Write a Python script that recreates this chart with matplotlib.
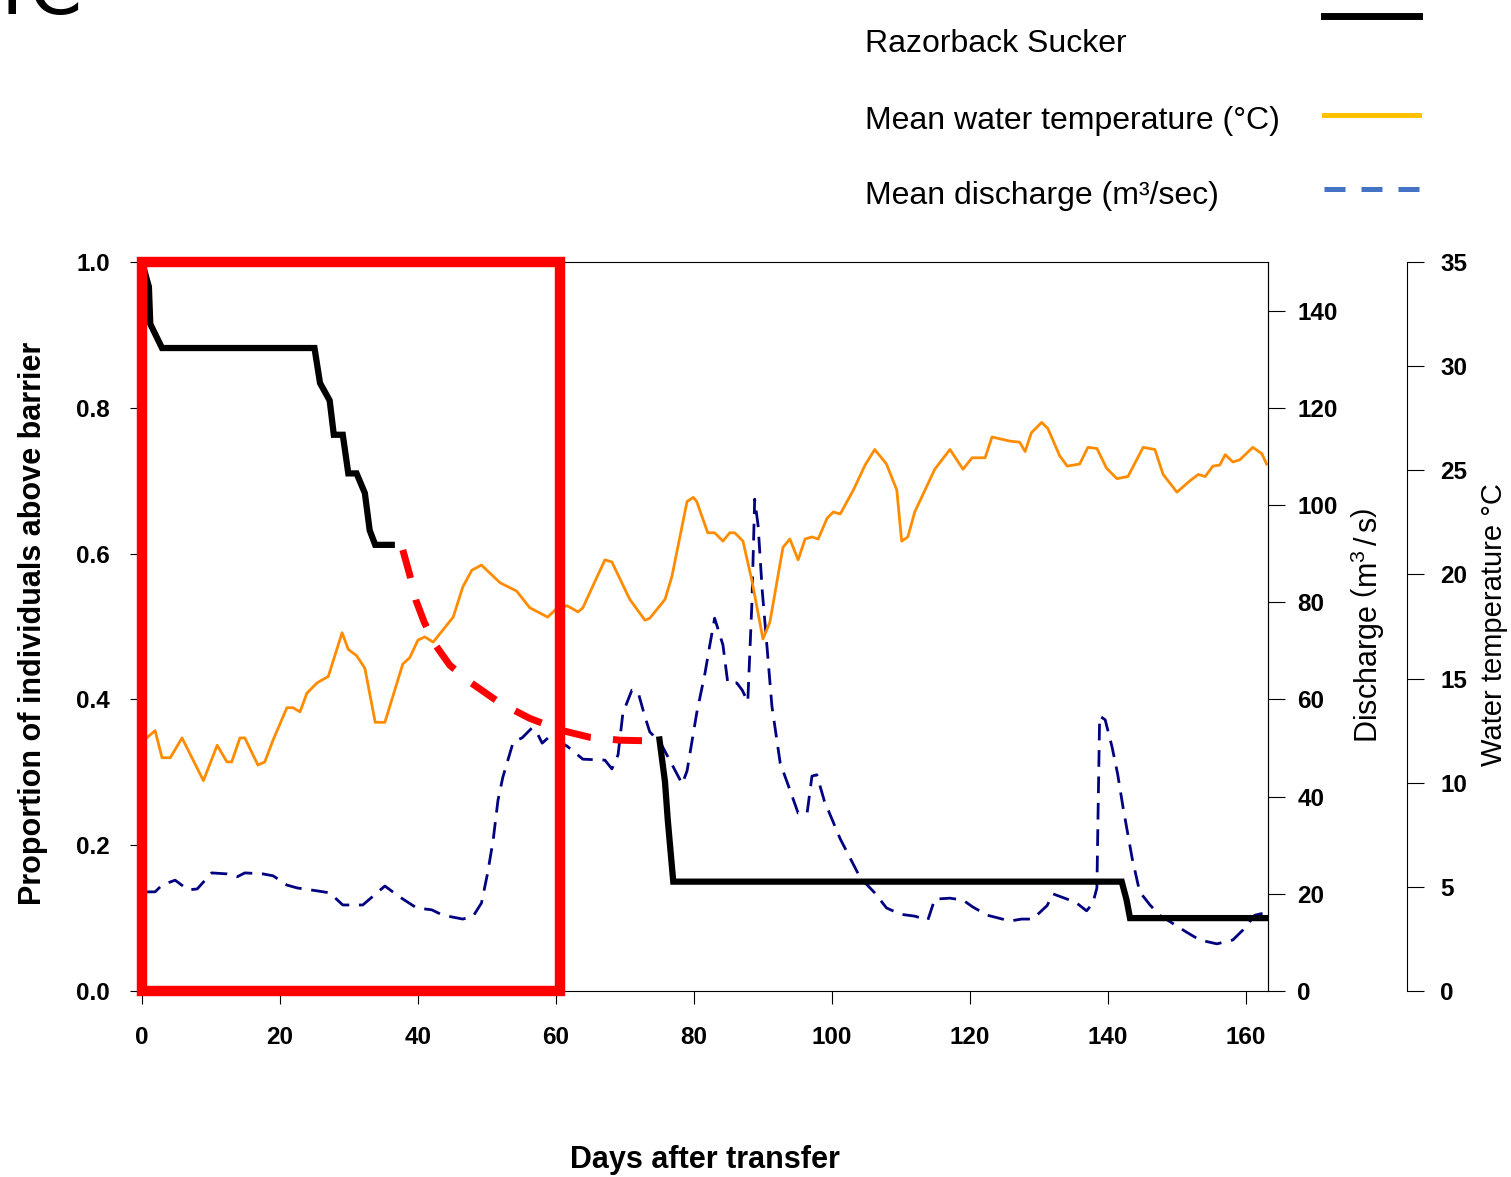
import matplotlib.pyplot as plt
from matplotlib.patches import Rectangle
from matplotlib.lines import Line2D

# proportion above barrier (observed), two segments
obs_days_early = [0, 1.0, 1.2, 2.9, 25, 25.8, 27.2, 27.8, 29.1, 29.9, 31.1, 32.3, 33.0, 33.8, 36.2]
obs_prop_early = [1.0, 0.966, 0.915, 0.882, 0.882, 0.834, 0.81, 0.763, 0.763, 0.71, 0.71, 0.683, 0.632, 0.612, 0.612]
obs_days_late = [75.0, 75.8, 76.2, 77.0, 142.0, 142.7, 143.2, 163.2]
obs_prop_late = [0.345, 0.287, 0.235, 0.15, 0.15, 0.125, 0.10, 0.10]

# hand-drawn projection between the two segments
proj_days = [37.8, 38.8, 39.7, 40.9, 42.5, 44.6, 47.5, 51.9, 56.2, 60.6, 64.9, 69.3, 74.3]
proj_prop = [0.605, 0.571, 0.536, 0.506, 0.475, 0.447, 0.424, 0.395, 0.374, 0.358, 0.348, 0.344, 0.343]

# mean water temperature (deg C)
temp_days = [0.5, 1.9, 2.9, 4.1, 5.8, 8.9, 10.9, 12.3, 13.0, 14.2,
             14.9, 16.8, 17.8, 19.0, 21.0, 21.9, 22.9, 23.9, 25.4, 27.0,
             29.0, 29.9, 31.1, 32.3, 33.8, 35.2, 37.8, 38.8, 40.0, 41.0,
             42.2, 45.1, 46.5, 47.8, 49.2, 51.9, 54.3, 56.2, 58.8, 59.9,
             61.6, 63.2, 63.9, 65.7, 67.1, 68.1, 70.7, 72.9, 73.6, 75.8,
             76.8, 79.0, 79.9, 80.4, 82.0, 83.0, 84.2, 85.2, 85.9, 87.1,
             88.4, 90.0, 91.0, 92.9, 93.9, 95.1, 96.1, 97.1, 98.0, 99.3,
             100.2, 101.2, 103.1, 104.8, 106.2, 107.9, 109.4, 110.1, 111.0, 112.0,
             114.9, 117.1, 119.0, 120.3, 122.2, 123.2, 125.8, 127.2, 128.0, 128.9,
             130.4, 131.3, 133.0, 134.1, 135.9, 137.1, 138.4, 139.8, 141.3, 142.9,
             145.1, 146.8, 148.0, 150.0, 151.9, 153.1, 154.1, 155.2, 156.2, 157.0,
             158.1, 159.1, 161.0, 162.3, 163.0]
temp_vals = [12.1, 12.5, 11.2, 11.2, 12.15, 10.1, 11.8, 11.0, 11.0, 12.15,
             12.15, 10.85, 11.0, 12.05, 13.6, 13.6, 13.4, 14.3, 14.8, 15.1,
             17.2, 16.4, 16.1, 15.5, 12.9, 12.9, 15.7, 16.0, 16.85, 17.0,
             16.75, 17.95, 19.4, 20.2, 20.45, 19.6, 19.2, 18.4, 17.95, 18.3,
             18.5, 18.2, 18.4, 19.7, 20.7, 20.6, 18.8, 17.8, 17.9, 18.8,
             19.9, 23.5, 23.7, 23.5, 22.0, 22.0, 21.6, 22.0, 22.0, 21.6,
             19.7, 16.9, 17.7, 21.3, 21.7, 20.7, 21.7, 21.8, 21.7, 22.7,
             23.0, 22.9, 24.05, 25.25, 26.0, 25.3, 24.05, 21.6, 21.8, 23.0,
             25.05, 26.0, 25.05, 25.6, 25.6, 26.6, 26.4, 26.35, 25.9, 26.8,
             27.3, 27.0, 25.7, 25.2, 25.3, 26.1, 26.05, 25.1, 24.6, 24.7,
             26.1, 26.0, 24.8, 23.95, 24.5, 24.8, 24.7, 25.2, 25.25, 25.75,
             25.4, 25.5, 26.1, 25.8, 25.3]

# mean discharge (m3/s)
flow_days = [0.5, 1.9, 2.9, 4.8, 6.7, 8.0, 10.1, 12.3, 13.8, 14.9,
             17.5, 19.0, 21.0, 22.5, 25.4, 27.2, 29.1, 32.0, 35.2, 37.4,
             39.8, 42.0, 43.6, 46.5, 48.0, 49.2, 50.1, 50.9, 51.6, 52.3,
             53.8, 55.1, 56.5, 57.4, 58.0, 59.1, 61.6, 63.9, 67.1, 68.1,
             69.0, 69.7, 71.0, 71.9, 72.9, 73.6, 75.1, 77.0, 78.3, 79.0,
             80.4, 81.6, 82.3, 83.0, 84.2, 84.9, 86.2, 87.0, 87.8, 88.4,
             88.8, 89.3, 89.9, 90.6, 91.3, 92.5, 93.9, 95.1, 96.4, 97.1,
             97.8, 98.9, 101.2, 104.1, 106.2, 107.9, 109.9, 112.0, 113.9, 114.9,
             117.1, 119.0, 120.4, 122.5, 125.8, 127.5, 129.1, 131.2, 132.0, 134.1,
             135.2, 136.9, 137.8, 138.4, 138.6, 138.8, 139.6, 140.6, 141.4, 142.2,
             143.5, 144.6, 146.1, 147.5, 149.3, 151.4, 153.3, 155.8, 158.1, 159.6,
             161.3, 162.5]
flow_vals = [20.4, 20.4, 21.8, 22.8, 20.8, 21.0, 24.3, 24.1, 23.5, 24.3,
             24.1, 23.7, 21.8, 21.2, 20.6, 20.2, 17.7, 17.7, 21.6, 19.3,
             17.1, 16.7, 15.6, 14.8, 15.4, 18.1, 24.3, 31.1, 39.3, 44.0,
             51.2, 52.1, 54.1, 52.7, 51.0, 52.4, 50.4, 47.7, 47.5, 45.7,
             48.6, 57.2, 61.9, 61.5, 56.4, 53.3, 51.2, 46.1, 42.6, 45.3,
             57.2, 65.4, 71.2, 76.7, 71.2, 63.4, 63.4, 61.9, 59.5, 79.9,
             101.2, 95.7, 82.3, 70.6, 58.6, 46.9, 41.4, 36.6, 36.6, 44.2,
             44.5, 39.1, 31.3, 23.3, 20.2, 17.1, 15.8, 15.4, 14.6, 18.9,
             19.1, 18.7, 17.3, 15.6, 14.4, 14.8, 14.8, 17.6, 20.0, 18.9,
             18.4, 16.5, 18.0, 21.2, 39.3, 56.6, 55.8, 50.2, 44.7, 37.7,
             27.4, 20.4, 17.7, 15.6, 14.0, 12.1, 10.5, 9.7, 10.5, 12.6,
             15.6, 16.0]

x_ticks = [0, 20, 40, 60, 80, 100, 120, 140, 160]
prop_ticks = [0.0, 0.2, 0.4, 0.6, 0.8, 1.0]
flow_ticks = [0, 20, 40, 60, 80, 100, 120, 140]
temp_ticks = [0, 5, 10, 15, 20, 25, 30, 35]
legend_labels = ["Razorback Sucker", "Mean water temperature (°C)", "Mean discharge (m³/sec)"]

plt.rcParams['font.family'] = ['Liberation Sans', 'DejaVu Sans']
plt.rcParams['mathtext.fontset'] = 'custom'
plt.rcParams['mathtext.rm'] = 'Liberation Sans'
plt.rcParams['mathtext.it'] = 'Liberation Sans:italic'

W, H = 1511, 1177
fig = plt.figure(figsize=(W / 100, H / 100), dpi=100)
ax = fig.add_axes([142 / W, 1 - 991 / H, (1268 - 142) / W, (991 - 262) / H])
ax_q = ax.twinx()
ax_t = ax.twinx()
ax.set_zorder(3)
ax.patch.set_visible(False)

# spines first: moving a spine resets its ticks
for a in (ax_q, ax_t):
    for s in ('top', 'bottom', 'left'):
        a.spines[s].set_visible(False)
ax_t.spines['right'].set_position(('axes', (1407 - 142) / (1268 - 142)))

ax_q.plot(flow_days, flow_vals, color='#000080', lw=2, dashes=(6, 3.5))
ax_t.plot(temp_days, temp_vals, color='#FF8C00', lw=2)
ax.plot(obs_days_early, obs_prop_early, color='black', lw=4.5, solid_joinstyle='miter')
ax.plot(obs_days_late, obs_prop_late, color='black', lw=4.5, solid_joinstyle='miter')
ax.plot(proj_days, proj_prop, color='red', lw=5, dashes=(4.2, 3.2), clip_on=False, zorder=4)
ax.add_patch(Rectangle((0, 0), 60.6, 1.0, fill=False, edgecolor='red', lw=7.5,
                       joinstyle='miter', clip_on=False, zorder=4))

ax.set_xlim(0, 163.2)
ax.set_ylim(0, 1)
ax_q.set_ylim(0, 150)
ax_t.set_ylim(0, 35)

ax.set_xticks(x_ticks, [str(t) for t in x_ticks], fontsize=17.5, fontweight='bold')
ax.set_yticks(prop_ticks, [f"{t:.1f}" for t in prop_ticks], fontsize=17.5, fontweight='bold')
ax.tick_params(axis='x', length=9, pad=16)
ax.tick_params(axis='y', length=9, pad=14)

ax_q.set_yticks(flow_ticks, [str(t) for t in flow_ticks], fontsize=17.5, fontweight='bold')
ax_q.tick_params(axis='y', length=12, pad=9)
ax_t.set_yticks(temp_ticks, [str(t) for t in temp_ticks], fontsize=17.5, fontweight='bold')
ax_t.tick_params(axis='y', length=12, pad=12)

fig.text(33 / W, 1 - 623 / H, "Proportion of individuals above barrier", rotation=90,
         ha='center', va='center', fontsize=22, fontweight='bold')
fig.text(705 / W, 1 - 1160 / H, "Days after transfer", ha='center', va='center',
         fontsize=22, fontweight='bold')
fig.text(1368 / W, 1 - 625 / H, r"Discharge $\left(\mathrm{m}^{3}\,/\,\mathrm{s}\right)$",
         rotation=90, ha='center', va='center', fontsize=22)
fig.text(1494 / W, 1 - 625 / H, "Water temperature °C", rotation=90,
         ha='center', va='center', fontsize=21)

# panel letter, cut off at the top
fig.text(0.5 / W, 1 - 14 / H, "I", fontsize=55, family='DejaVu Sans', va='baseline')
fig.text(29 / W, 1 - 14 / H, "C", fontsize=55, family='DejaVu Sans', va='baseline')

# legend block at the top
for label, yb in zip(legend_labels, [52, 129, 204]):
    fig.text(865 / W, 1 - yb / H, label, fontsize=23, va='baseline')
fig.add_artist(Line2D([1324 / W, 1419 / W], [1 - 16 / H] * 2, color='black', lw=5))
fig.add_artist(Line2D([1324 / W, 1419 / W], [1 - 115 / H] * 2, color='#FFC000', lw=3.6))
fig.add_artist(Line2D([1324 / W, 1419 / W], [1 - 189 / H] * 2, color='#4472C4', lw=3.6,
                      dashes=(4.2, 3.2)))

fig.savefig("out.png", dpi=100)
